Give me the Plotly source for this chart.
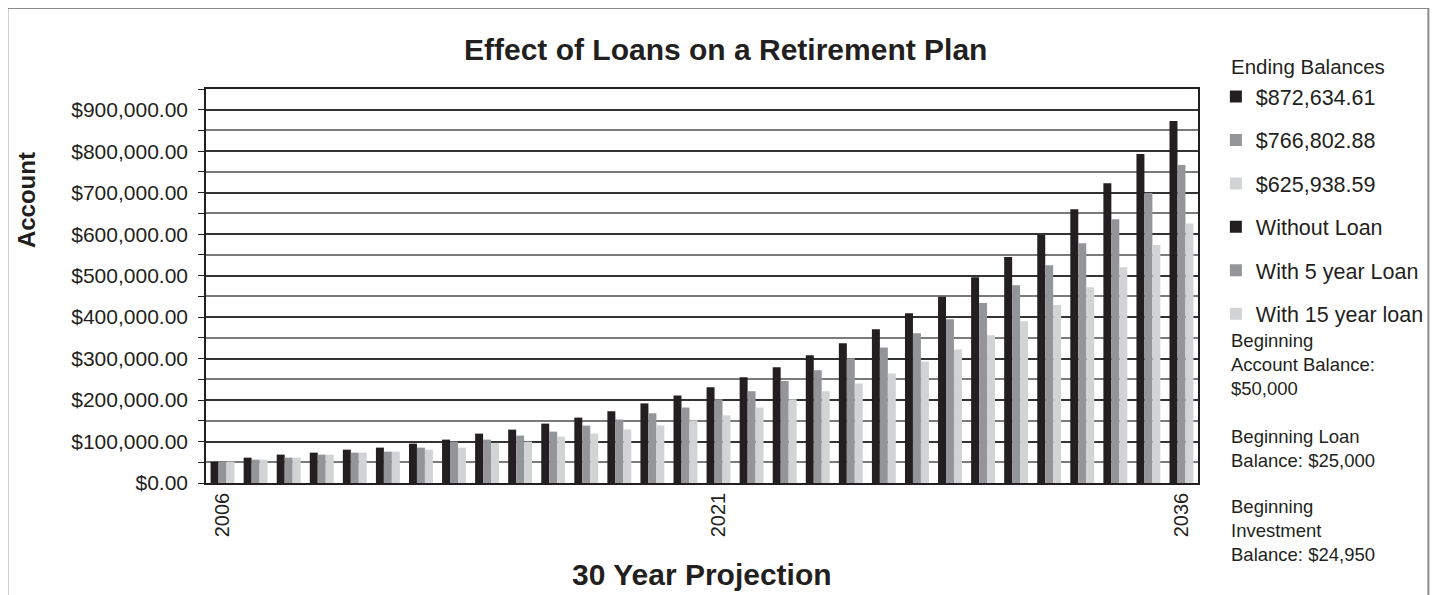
import plotly.graph_objects as go

# ---- data ----
series_names = ["Without Loan", "With 5 year Loan", "With 15 year loan"]
series_colors = ["#231f20", "#939598", "#d1d3d4"]

without_loan = [51.4, 61.1, 68.4, 73.2, 80.4, 85.3, 94.9, 104.6, 119.1, 128.7, 143.2, 157.7,
                173, 192, 211, 231, 255, 279, 308, 337, 371, 409, 449, 496, 545, 598, 660,
                723, 793, 872.63461]
with_5yr_loan = [51.4, 56.3, 61.1, 68.4, 73.2, 75.6, 85.3, 99.8, 104.6, 114.3, 123.9, 138.4,
                 153, 168, 182, 202, 221, 246, 272, 301, 327, 361, 395, 434, 477, 525, 578,
                 636, 699, 766.80288]
with_15yr_loan = [51.4, 56.3, 61.1, 68.4, 73.2, 75.6, 80.4, 85.3, 96.6, 99.8, 111.8, 119.1,
                  129, 139, 151, 163, 182, 202, 221, 240, 264, 293, 322, 356, 390, 429, 472,
                  520, 574, 625.93859]
values_thousands = [without_loan, with_5yr_loan, with_15yr_loan]

periods = list(range(30))
tick_periods = [0, 15, 29]
tick_labels = ["2006", "2021", "2036"]

y_tick_values = [i * 100000 for i in range(10)]
y_tick_text = [f"${v:,.2f}" for v in y_tick_values]

side_notes = [
    "Beginning<br>Account Balance:<br>$50,000",
    "Beginning Loan<br>Balance: $25,000",
    "Beginning<br>Investment<br>Balance: $24,950",
]

FONT = "Liberation Sans, Arial, sans-serif"
TXT = "#231f20"

fig = go.Figure()

# legend-only entries showing the ending balances
for i, (vals, color) in enumerate(zip(values_thousands, series_colors)):
    fig.add_trace(go.Scatter(
        x=[None], y=[None], mode="markers",
        marker=dict(symbol="square", size=12, color=color),
        name=f"${vals[-1] * 1000:,.2f}", legendgroup=f"end{i}", legendrank=i + 1,
        hoverinfo="skip"))

for i, (name, vals, color) in enumerate(zip(series_names, values_thousands, series_colors)):
    fig.add_trace(go.Bar(
        x=periods, y=[v * 1000 for v in vals], name=name,
        marker=dict(color=color, line=dict(width=0)),
        legendgroup=f"ser{i}", legendrank=i + 4))

OFF = 8  # page offset of the figure inside the browser window
W, H = 1441 - OFF, 595 - OFF
L = 206 - OFF
T = 89 - OFF
R = W - (1205 - OFF)
B = H - (483.5 - OFF)
pw = W - L - R
ph = H - T - B

def px(x):
    return (x - OFF - L) / pw

def py(y):
    return (H - B - (y - OFF)) / ph

fig.update_layout(
    width=W, height=H,
    margin=dict(l=L, r=R, t=T, b=B, pad=0),
    paper_bgcolor="white", plot_bgcolor="white",
    font=dict(family=FONT, color=TXT, size=20),
    barmode="group", bargap=0.277, bargroupgap=0,
    showlegend=True,
    legend=dict(x=px(1223), y=py(76), xanchor="left", yanchor="top",
                font=dict(size=21.5, color=TXT), tracegroupgap=12.5,
                itemwidth=30, bgcolor="rgba(0,0,0,0)", itemclick=False),
    xaxis=dict(range=[-0.5, 29.5], tickmode="array", tickvals=tick_periods,
               ticktext=tick_labels, tickangle=-90, ticks="",
               tickfont=dict(size=20, color=TXT),
               showgrid=False, showline=True, linecolor="#231f20", linewidth=1.5,
               mirror=True, zeroline=False),
    yaxis=dict(range=[0, 950000], tickmode="array", tickvals=y_tick_values,
               ticktext=y_tick_text, ticks="outside", ticklen=6, tickcolor="#231f20",
               tickfont=dict(size=21, color=TXT), ticklabelstandoff=6,
               showgrid=True, gridcolor="#333333", gridwidth=1.5,
               minor=dict(dtick=50000, tick0=0, showgrid=True, gridcolor="#7a7a7a",
                          gridwidth=1.5, ticks="outside", ticklen=6, tickcolor="#231f20"),
               showline=True, linecolor="#231f20", linewidth=1.5, mirror=True,
               zeroline=False),
    shapes=[dict(type="rect", xref="paper", yref="paper",
                 x0=px(6), x1=px(1437), y0=py(620), y1=py(8),
                 line=dict(color="#8a8a8a", width=2), fillcolor="rgba(0,0,0,0)", layer="below")],
)

ann = [
    dict(text="<b>Effect of Loans on a Retirement Plan</b>", x=px(729), y=py(49),
         font=dict(size=30, color=TXT)),
    dict(text="<b>30 Year Projection</b>", x=px(706), y=py(575),
         font=dict(size=30, color=TXT)),
    dict(text="<b>Account</b>", x=px(26), y=py(200), textangle=-90,
         font=dict(size=24, color=TXT)),
    dict(text="Ending Balances", x=px(1236), y=py(66), xanchor="left",
         font=dict(size=20.5, color=TXT)),
]
for note, yc in zip(side_notes, [364.8, 449.2, 531.5]):
    ann.append(dict(text=note, x=px(1236), y=py(yc), xanchor="left", align="left",
                    font=dict(size=18.5, color=TXT)))
for a in ann:
    a.setdefault("xanchor", "center")
    a.setdefault("yanchor", "middle")
    fig.add_annotation(xref="paper", yref="paper", showarrow=False, **a)

fig.write_html("out.html")
